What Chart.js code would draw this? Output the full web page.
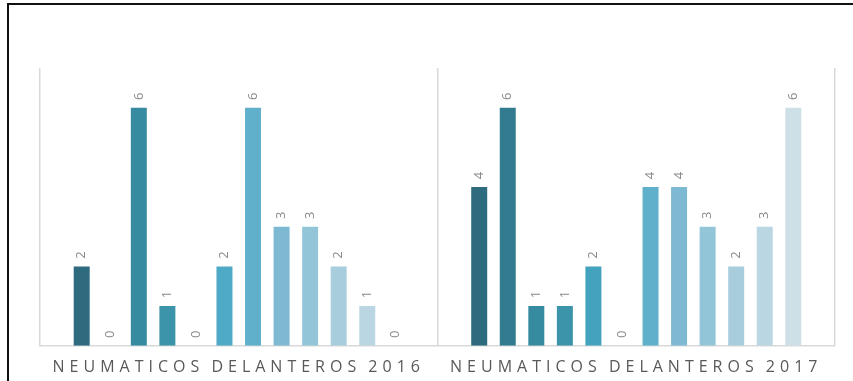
<!DOCTYPE html>
<html>
<head>
<meta charset="utf-8">
<script src="https://cdn.jsdelivr.net/npm/chart.js@4/dist/chart.umd.min.js"></script>
<style>
  html, body { margin: 0; padding: 0; background: #fff; overflow: hidden; }
  #wrap { position: relative; width: 853px; height: 381px; }
  #marco {
    position: absolute; left: 7px; top: 3px; right: -4px; bottom: -4px;
    border-top: 2px solid #111; border-left: 2px solid #111;
    pointer-events: none;
  }
  canvas { position: absolute; left: 0; top: 0; }
</style>
</head>
<body>
<div id="wrap">
  <canvas id="neumaticos" width="853" height="381"></canvas>
  <div id="marco"></div>
</div>
<script>
const categorias = ["NEUMATICOS DELANTEROS 2016", "NEUMATICOS DELANTEROS 2017"];
const valores2016 = [2, 0, 6, 1, 0, 2, 6, 3, 3, 2, 1, 0];
const valores2017 = [4, 6, 1, 1, 2, 0, 4, 4, 3, 2, 3, 6];
const colores = [
  "#2f6b7e", "#337c8f", "#368ba0", "#3c94aa", "#43a2bd", "#4eaac6",
  "#60b0cb", "#7db9d2", "#93c5d8", "#a8cedd", "#bad6e2", "#cde0e8",
];

// one dataset per bar position so each gets its own shade
const datasets = colores.map((color, i) => ({
  label: "Serie " + (i + 1),
  data: [valores2016[i], valores2017[i]],
  backgroundColor: color,
  borderWidth: 0,
  categoryPercentage: 0.862,
  barPercentage: 0.56,
}));

// value labels above each bar, rotated to read bottom-up
const etiquetasValor = {
  id: "etiquetasValor",
  afterDatasetsDraw(chart) {
    const ctx = chart.ctx;
    ctx.save();
    ctx.font = "13px 'Open Sans'";
    ctx.fillStyle = "#8a8a8a";
    ctx.textAlign = "center";
    ctx.textBaseline = "middle";
    chart.data.datasets.forEach((ds, i) => {
      chart.getDatasetMeta(i).data.forEach((bar, j) => {
        ctx.save();
        ctx.translate(bar.x, bar.y - 14);
        ctx.rotate(-Math.PI / 2);
        ctx.fillText(String(ds.data[j]), 0, 0);
        ctx.restore();
      });
    });
    ctx.restore();
  },
};

// spaced-out category titles
const espaciado = {
  id: "espaciado",
  beforeDraw(chart) {
    chart.ctx.letterSpacing = "5px";
    chart.ctx.wordSpacing = "-2px";
  },
  afterDraw(chart) {
    chart.ctx.letterSpacing = "0px";
    chart.ctx.wordSpacing = "0px";
  },
};

new Chart(document.getElementById("neumaticos"), {
  type: "bar",
  data: { labels: categorias, datasets },
  plugins: [etiquetasValor, espaciado],
  options: {
    responsive: false,
    animation: false,
    layout: { padding: { left: 40, right: 18, top: 68, bottom: -8 } },
    plugins: { legend: { display: false }, tooltip: { enabled: false } },
    scales: {
      x: {
        grid: { color: "#d9d9d9", lineWidth: 1.5, drawTicks: false, offset: true },
        border: { color: "#d9d9d9", width: 1.5 },
        ticks: {
          color: "#595959",
          font: { family: "'Open Sans'", size: 16 },
          padding: 12,
          maxRotation: 0,
        },
      },
      y: {
        display: false,
        min: 0,
        max: 7,
      },
    },
  },
});
</script>
</body>
</html>
